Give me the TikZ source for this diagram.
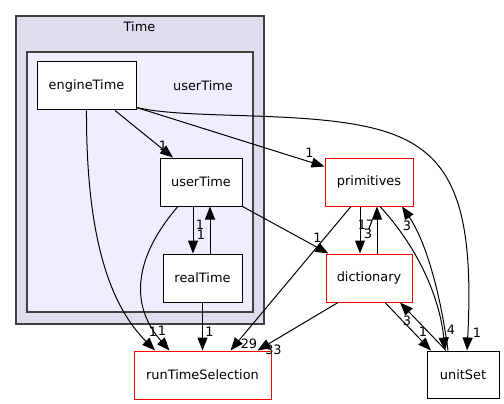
\documentclass[tikz,border=0pt]{standalone}
\usepackage{fontspec}
\setmainfont{DejaVu Sans}
\usepackage{tikz}
\usetikzlibrary{positioning,arrows.meta}

\begin{document}
\begin{tikzpicture}[x=1pt, y=-1pt,
        txt/.style={font=\fontsize{12.9}{15}\selectfont},
        dirbox/.style={txt, draw=black, fill=white, line width=1pt, inner sep=0pt, minimum height=48pt},
        extbox/.style={dirbox, draw=red},
        cluster/.style={draw=black!75, line width=1.2pt},
        lbl/.style={txt, inner sep=0pt},
        dep/.style={-{Triangle[length=13pt,width=10pt]}, line width=1pt}]
            \useasboundingbox (0,0) rectangle (504,404);

            % directory clusters
            \draw [cluster, fill={rgb,255:red,221;green,221;blue,238}] (16,16) rectangle (264,324);
            \draw [cluster, fill={rgb,255:red,238;green,238;blue,255}] (27,52) rectangle (253,312);
            \node [txt] (timelbl) at (139.5,27) {Time};
            \node [txt] (usertimelbl) at (203,86) {userTime};

            \node [dirbox, minimum width=99pt] (engine) at (86.5,86) {engineTime};
            \node [dirbox, minimum width=82pt] (user) at (201,182) {userTime};
            \node [dirbox, minimum width=79pt] (real) at (202.5,278) {realTime};
            \node [extbox, minimum width=88pt] (prim) at (369,182) {primitives};
            \node [extbox, minimum width=86pt] (dict) at (369,278) {dictionary};
            \node [extbox, minimum width=137pt] (rts) at (202.5,375) {runTimeSelection};
            \node [dirbox, minimum width=72pt, minimum height=47pt] (unit) at (463,374.5) {unitSet};

            \draw [dep] ([xshift=28.5pt]engine.south) -- ([xshift=-28pt]user.north)
                node [lbl, at end, xshift=-10pt, yshift=12pt] {1};
            \draw [dep] ([yshift=3pt]engine.south east) -- ([yshift=-9pt]prim.north west)
                node [lbl, at end, xshift=-15pt, yshift=14pt] {1};
            \draw [dep] ([yshift=3pt]engine.south east) .. controls (190,120) and (310,110) .. (380,130)
                .. controls (450,150) and (475,200) .. ([xshift=4pt]unit.north)
                node [lbl, at end, xshift=10pt, yshift=18pt] {1};
            \draw [dep] (engine.south) .. controls (86,250) and (115,310) .. ([xshift=-47.5pt]rts.north)
                node [lbl, at end, xshift=-2pt, yshift=19pt] {1};

            \draw [dep] ([xshift=-8pt]user.south) -- ([xshift=-9.5pt]real.north)
                node [lbl, at end, xshift=8pt, yshift=19pt] {1};
            \draw [dep] ([xshift=7.5pt]real.north) -- ([xshift=9pt]user.south)
                node [lbl, at end, xshift=-10pt, yshift=-18pt] {1};
            \draw [dep] ([xshift=-23pt]user.south) .. controls (140,250) and (125,300) .. ([xshift=-33pt]rts.north)
                node [lbl, at end, xshift=-7.5pt, yshift=20pt] {1};
            \draw [dep] (user.south east) -- ([xshift=3pt]dict.north west)
                node [lbl, at end, xshift=-11pt, yshift=16pt] {1};
            \draw [dep] (real.south) -- (rts.north)
                node [lbl, at end, xshift=7pt, yshift=19pt] {1};

            \draw [dep] ([xshift=-18pt]prim.south) -- ([xshift=28pt]rts.north)
                node [lbl, at end, xshift=18.5pt, yshift=7pt] {29};
            \draw [dep] ([xshift=-9pt]prim.south) -- ([xshift=-9pt]dict.north)
                node [lbl, at end, xshift=8pt, yshift=20pt] {3};
            \draw [dep] ([xshift=8pt]dict.north) -- ([xshift=8pt]prim.south)
                node [lbl, at end, xshift=-11pt, yshift=-18pt] {17};
            \draw [dep] ([xshift=11pt]prim.south) .. controls (420,250) and (440,300) .. ([xshift=-18pt]unit.north)
                node [lbl, at end, xshift=6pt, yshift=21pt] {4};
            \draw [dep] ([xshift=-15pt]unit.north) .. controls (440,290) and (425,240) .. ([xshift=33pt]prim.south)
                node [lbl, at end, xshift=5pt, yshift=-19pt] {3};

            \draw [dep] ([xshift=-31pt]dict.south) -- ([xshift=55pt]rts.north)
                node [lbl, at end, xshift=16pt, yshift=1pt] {33};
            \draw [dep] ([xshift=16pt]dict.south) -- ([xshift=-32pt]unit.north)
                node [lbl, at end, xshift=-8pt, yshift=19pt] {1};
            \draw [dep] ([xshift=-17pt]unit.north) -- ([xshift=31pt]dict.south)
                node [lbl, at end, xshift=7pt, yshift=-18pt] {3};
        \end{tikzpicture}
\end{document}
